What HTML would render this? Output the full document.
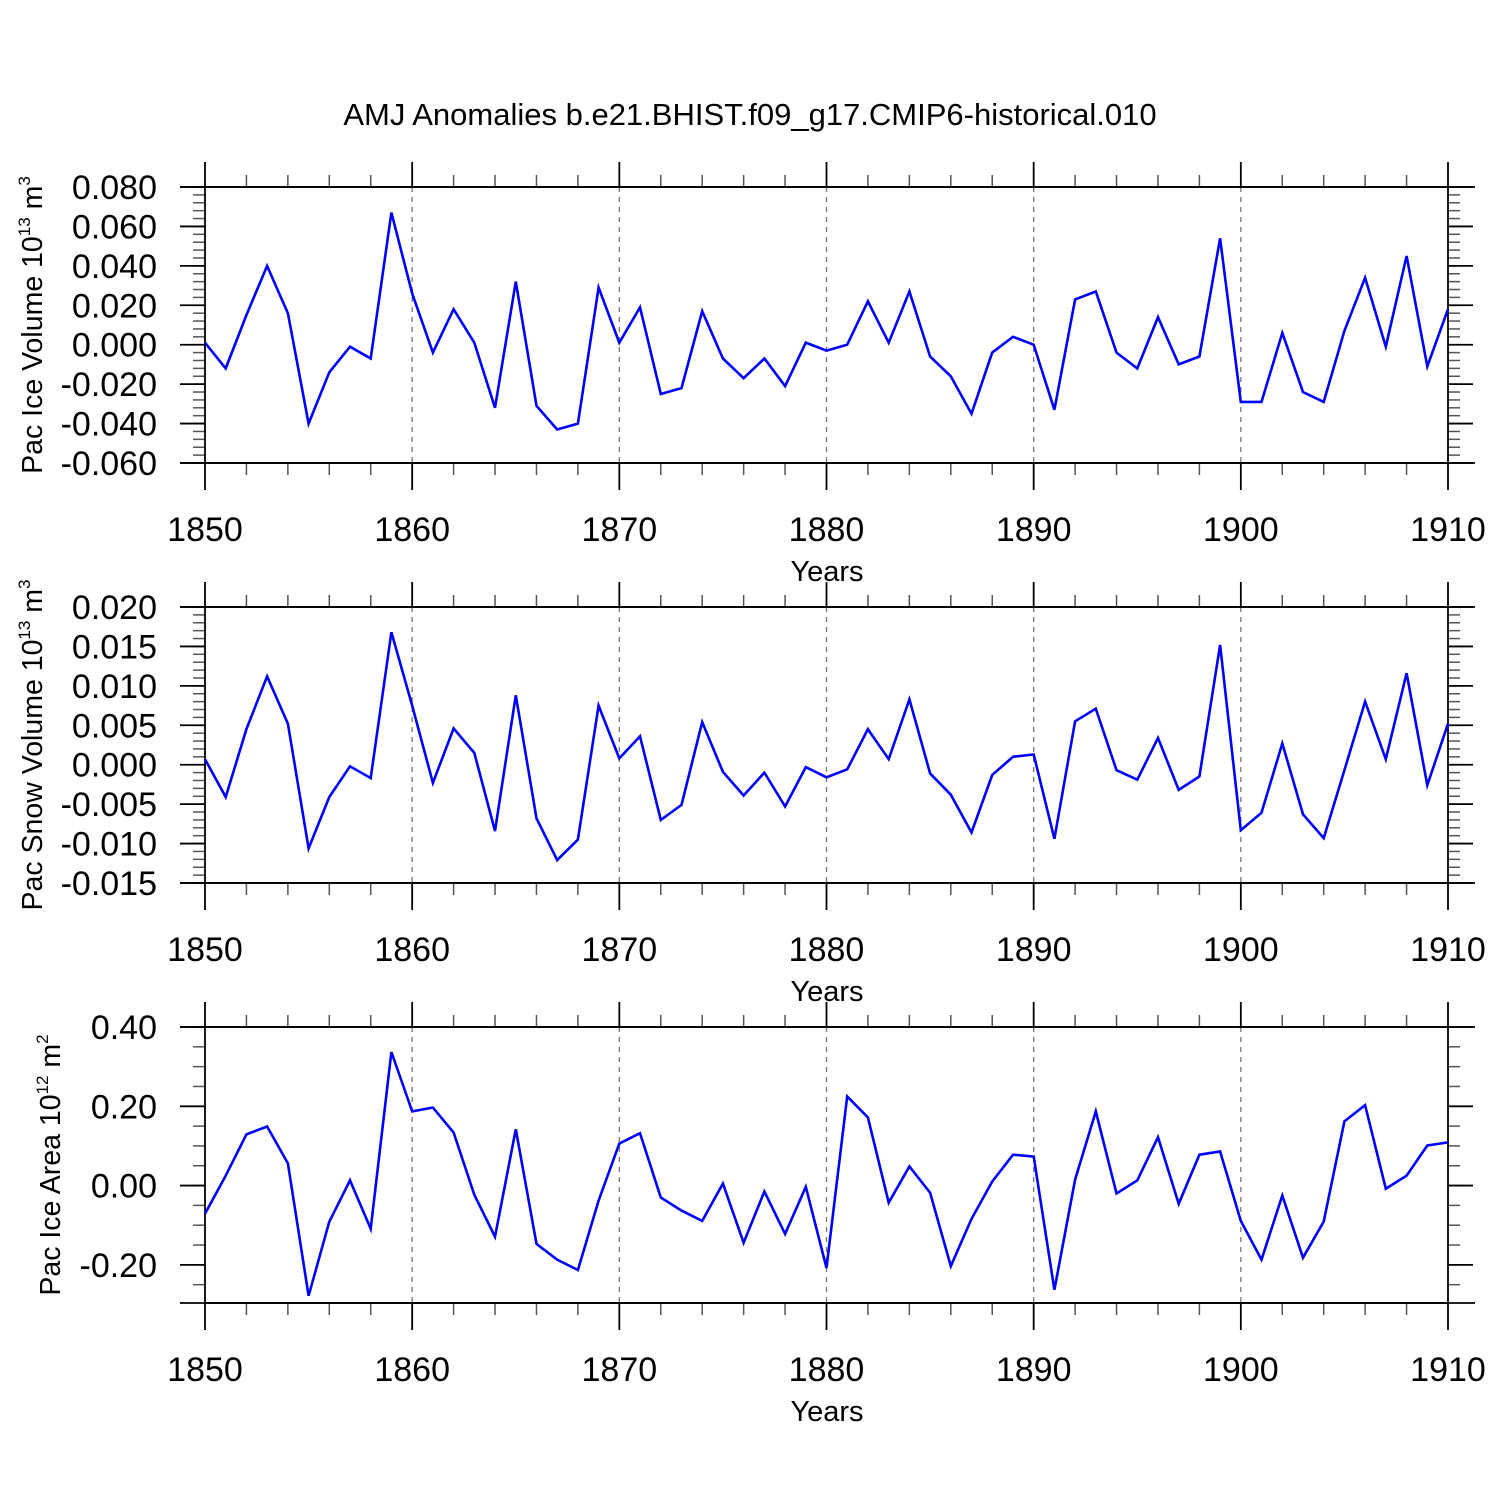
<!DOCTYPE html>
<html><head><meta charset="utf-8"><style>
html,body{margin:0;padding:0;background:#fff}
svg{display:block;font-family:"Liberation Sans",Arial,sans-serif}
</style></head><body>
<svg id="c" width="1500" height="1500" viewBox="0 0 1500 1500">
<text x="750" y="125" font-size="31" text-anchor="middle">AMJ Anomalies b.e21.BHIST.f09_g17.CMIP6-historical.010</text>
</svg>
<script>
const years=[];for(let y=1850;y<=1910;y++)years.push(y);
const iceVolume=[0.001,-0.012,0.015,0.040,0.016,-0.040,-0.014,-0.001,-0.007,0.067,0.026,-0.004,0.018,0.001,-0.032,0.032,-0.031,-0.043,-0.040,0.029,0.001,0.019,-0.025,-0.022,0.017,-0.007,-0.017,-0.007,-0.021,0.001,-0.003,0.000,0.022,0.001,0.027,-0.006,-0.016,-0.035,-0.004,0.004,0.000,-0.033,0.023,0.027,-0.004,-0.012,0.014,-0.010,-0.006,0.054,-0.029,-0.029,0.006,-0.024,-0.029,0.007,0.034,-0.001,0.045,-0.011,0.018];
const snowVolume=[0.0007,-0.0041,0.0045,0.0112,0.0052,-0.0106,-0.0041,-0.0002,-0.0017,0.0168,0.0075,-0.0023,0.0046,0.0015,-0.0084,0.0088,-0.0068,-0.0121,-0.0095,0.0075,0.0008,0.0036,-0.0070,-0.0051,0.0054,-0.0009,-0.0039,-0.0010,-0.0053,-0.0003,-0.0016,-0.0006,0.0045,0.0007,0.0083,-0.0011,-0.0038,-0.0086,-0.0013,0.0010,0.0013,-0.0094,0.0055,0.0071,-0.0007,-0.0019,0.0034,-0.0032,-0.0015,0.0152,-0.0083,-0.0061,0.0027,-0.0063,-0.0093,-0.0007,0.0080,0.0007,0.0116,-0.0026,0.0052];
const iceArea=[-0.071,0.025,0.129,0.149,0.056,-0.278,-0.091,0.013,-0.109,0.337,0.187,0.197,0.134,-0.023,-0.129,0.142,-0.147,-0.187,-0.213,-0.038,0.106,0.132,-0.030,-0.063,-0.089,0.005,-0.144,-0.015,-0.122,-0.003,-0.208,0.225,0.172,-0.043,0.048,-0.018,-0.203,-0.084,0.010,0.078,0.073,-0.263,0.015,0.187,-0.020,0.013,0.122,-0.046,0.078,0.086,-0.089,-0.187,-0.025,-0.182,-0.091,0.162,0.203,-0.008,0.025,0.101,0.109];
const xTicks=[1850,1860,1870,1880,1890,1900,1910];
const ticks1=["0.080","0.060","0.040","0.020","0.000","-0.020","-0.040","-0.060"];
const ticks2=["0.020","0.015","0.010","0.005","0.000","-0.005","-0.010","-0.015"];
const ticks3=["0.40","0.20","0.00","-0.20"];
const NS="http://www.w3.org/2000/svg";
const svg=document.getElementById('c');
function el(t,a,p){const e=document.createElementNS(NS,t);for(const k in a)e.setAttribute(k,a[k]);(p||svg).appendChild(e);return e;}
const X0=205,X1=1448;
function xs(yr){return X0+(yr-1850)/60*(X1-X0);}
function panel(name,top,ymax,ymin,ticks,minorStep,data,title,exp,unit,titleX){
  const bot=top+276;
  const g=el('g',{});
  
  
  const ys=v=>top+(ymax-v)/(ymax-ymin)*276;
  for(const t of xTicks){if(t==1850||t==1910)continue;
    const l=el('line',{x1:xs(t),x2:xs(t),y1:top,y2:bot,stroke:'#777','stroke-width':1.3,'stroke-dasharray':'5,5'},g);
    }
  for(let v=ymax;v>=ymin-1e-9;v-=minorStep){const y=ys(v);
    el('line',{x1:X0-12,x2:X0,y1:y,y2:y,stroke:'#555','stroke-width':1.5},g);
    el('line',{x1:X1,x2:X1+12,y1:y,y2:y,stroke:'#555','stroke-width':1.5},g);}
  for(const s of ticks){const v=parseFloat(s),y=ys(v);
    el('line',{x1:X0-25,x2:X0,y1:y,y2:y,stroke:'#000','stroke-width':1.8},g);
    el('line',{x1:X1,x2:X1+25,y1:y,y2:y,stroke:'#000','stroke-width':1.8},g);
    const t=el('text',{x:157,y:y+12,'font-size':34,'text-anchor':'end'},g);t.textContent=s;
    }
  for(let yr=1852;yr<1910;yr+=2){if(yr%10==0)continue;const x=xs(yr);
    el('line',{x1:x,x2:x,y1:top-12,y2:top,stroke:'#555','stroke-width':1.5},g);
    el('line',{x1:x,x2:x,y1:bot,y2:bot+12,stroke:'#555','stroke-width':1.5},g);}
  for(const yr of xTicks){const x=xs(yr);
    el('line',{x1:x,x2:x,y1:top-25,y2:top,stroke:'#000','stroke-width':1.8},g);
    el('line',{x1:x,x2:x,y1:bot,y2:bot+27,stroke:'#000','stroke-width':1.8},g);
    const t=el('text',{x:x,y:bot+78,'font-size':34,'text-anchor':'middle'},g);t.textContent=yr;
    }
  const f=el('rect',{x:X0,y:top,width:X1-X0,height:276,fill:'none',stroke:'#000','stroke-width':1.8},g);
  
  el('line',{x1:X0-25,x2:X1+27,y1:top,y2:top,stroke:'#000','stroke-width':1.8},g);
  el('line',{x1:X0-25,x2:X1+27,y1:bot,y2:bot,stroke:'#000','stroke-width':1.8},g);
  const pts=years.map((yr,i)=>xs(yr).toFixed(1)+','+ys(data[i]).toFixed(1)).join(' ');
  const pl=el('polyline',{points:pts,fill:'none',stroke:'#0000ff','stroke-width':2.6,'stroke-linejoin':'miter'},g);
  
  const xt=el('text',{x:827,y:bot+118,'font-size':29,'text-anchor':'middle'},g);xt.textContent='Years';
  
  const cy=(top+bot)/2;
  const yt=el('text',{x:0,y:0,'font-size':28.5,'text-anchor':'middle',transform:`translate(${titleX},${cy}) rotate(-90)`},g);
  
  const a=el('tspan',{},yt);a.textContent=title+' 10';
  const b=el('tspan',{'font-size':17,dy:-12},yt);b.textContent=exp;
  const c=el('tspan',{dy:12},yt);c.textContent=' m';
  const d=el('tspan',{'font-size':17,dy:-12},yt);d.textContent=unit;
}
panel('ice-volume',187,0.08,-0.06,ticks1,0.004,iceVolume,'Pac Ice Volume','13','3',42);
panel('snow-volume',607,0.020,-0.015,ticks2,0.001,snowVolume,'Pac Snow Volume','13','3',42);
panel('ice-area',1027,0.40,-0.2962,ticks3,0.05,iceArea,'Pac Ice Area','12','2',60);
</script>
</body></html>
